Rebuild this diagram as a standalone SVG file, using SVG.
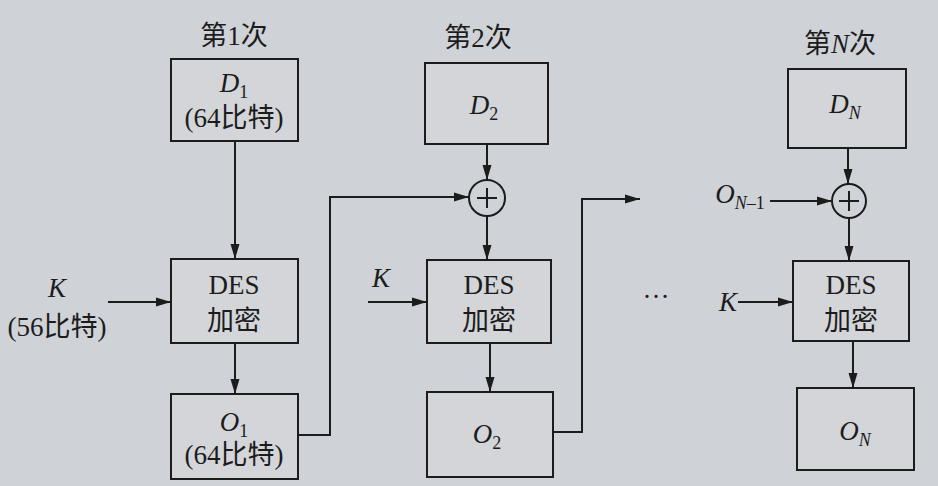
<svg xmlns="http://www.w3.org/2000/svg" width="938" height="486" viewBox="0 0 938 486">
<defs>
<marker id="arr" markerWidth="16" markerHeight="10" refX="15" refY="5" orient="auto" markerUnits="userSpaceOnUse">
<path d="M0,0.5 L15,5 L0,9.5 Z" fill="#1c1c1c"/>
</marker>
<style>
.bg{fill:#cfd2d6}
.box{fill:#d3d5d9;stroke:#1c1c1c;stroke-width:2}
.ln{fill:none;stroke:#1c1c1c;stroke-width:2}
.ar{fill:none;stroke:#1c1c1c;stroke-width:2;marker-end:url(#arr)}
.t{font-family:"Liberation Serif","Noto Sans CJK SC",serif;font-size:27px;fill:#1c1c1c;text-anchor:middle}
.i{font-style:italic}
.s{font-size:18px}
</style>
</defs>
<rect class="bg" x="0" y="0" width="938" height="486"/>

<g id="col1">
<text class="t" x="234" y="45">第1次</text>
<g id="D1"><rect class="box" x="171" y="59" width="127" height="82"/>
<text class="t" x="234" y="92"><tspan class="i">D</tspan><tspan class="s" dy="6">1</tspan></text>
<text class="t" x="234" y="127">(64比特)</text></g>
<g id="K1"><text class="t i" x="57" y="297">K</text><text class="t" x="57" y="336">(56比特)</text></g>
<g id="DES1"><rect class="box" x="171" y="259" width="127" height="84"/>
<text class="t" x="234" y="294">DES</text><text class="t" x="234" y="330">加密</text></g>
<g id="O1"><rect class="box" x="171" y="394" width="127" height="85"/>
<text class="t" x="234" y="431"><tspan class="i">O</tspan><tspan class="s" dy="6">1</tspan></text>
<text class="t" x="234" y="464">(64比特)</text></g>
</g>

<g id="col2">
<text class="t" x="478" y="47">第2次</text>
<g id="D2"><rect class="box" x="425" y="63" width="123" height="81"/>
<text class="t" x="484" y="114"><tspan class="i">D</tspan><tspan class="s" dy="6">2</tspan></text></g>
<g id="X2"><circle class="ln" cx="487" cy="198" r="18" fill="#d3d5d9"/>
<path class="ln" d="M487,188 V208 M477,198 H497"/></g>
<g id="K2"><text class="t i" x="381" y="287">K</text></g>
<g id="DES2"><rect class="box" x="427" y="260" width="124" height="83"/>
<text class="t" x="489" y="294">DES</text><text class="t" x="489" y="330">加密</text></g>
<g id="O2"><rect class="box" x="427" y="392" width="126" height="85"/>
<text class="t" x="487" y="443"><tspan class="i">O</tspan><tspan class="s" dy="6">2</tspan></text></g>
</g>

<g id="dots"><text class="t" x="656" y="298">…</text></g>

<g id="colN">
<text class="t" x="840" y="53">第<tspan class="i">N</tspan>次</text>
<g id="DN"><rect class="box" x="788" y="69" width="118" height="79"/>
<text class="t" x="845" y="113"><tspan class="i">D</tspan><tspan class="s i" dy="6">N</tspan></text></g>
<g id="ON1"><text class="t" x="740" y="203"><tspan class="i">O</tspan><tspan class="s" dy="6"><tspan class="i">N</tspan>–1</tspan></text></g>
<g id="XN"><circle class="ln" cx="849" cy="201" r="17" fill="#d3d5d9"/>
<path class="ln" d="M849,191 V211 M839,201 H859"/></g>
<g id="KN"><text class="t i" x="728" y="311">K</text></g>
<g id="DESN"><rect class="box" x="793" y="261" width="116" height="80"/>
<text class="t" x="851" y="294">DES</text><text class="t" x="851" y="330">加密</text></g>
<g id="ON"><rect class="box" x="797" y="388" width="117" height="82"/>
<text class="t" x="855" y="440"><tspan class="i">O</tspan><tspan class="s i" dy="6">N</tspan></text></g>
</g>

<g id="connectors">
<path class="ar" d="M235,141 V259"/>
<path class="ar" d="M108,302 H171"/>
<path class="ar" d="M235,343 V394"/>
<path class="ar" d="M298,435 H330 V197 H469"/>
<path class="ar" d="M487,144 V180"/>
<path class="ar" d="M487,216 V260"/>
<path class="ar" d="M368,302 H427"/>
<path class="ar" d="M490,343 V392"/>
<path class="ar" d="M553,432 H582 V199 H640"/>
<path class="ar" d="M848,148 V184"/>
<path class="ar" d="M770,201 H832"/>
<path class="ar" d="M849,218 V261"/>
<path class="ar" d="M738,302 H793"/>
<path class="ar" d="M853,341 V388"/>
</g>
</svg>
